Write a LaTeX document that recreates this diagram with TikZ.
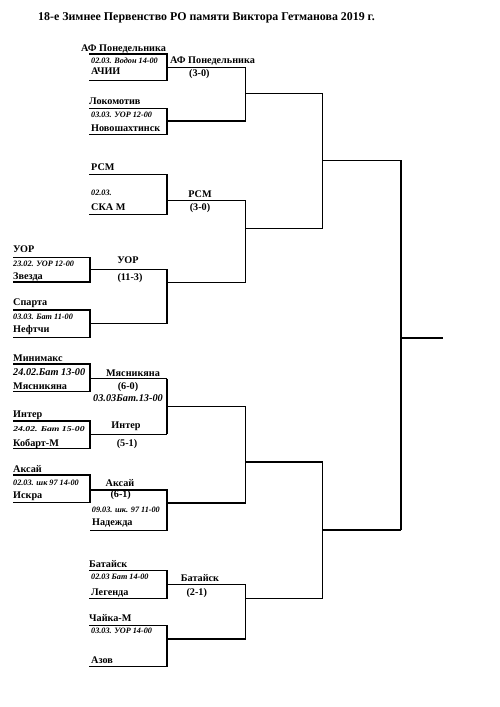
\documentclass[tikz,border=0pt]{standalone}
\usepackage{fontspec}
\setmainfont{Liberation Serif}
\begin{document}
\begin{tikzpicture}[x=1pt,y=-1pt,
  ln/.style={line width=1.5pt,black},
  nm/.style={inner sep=0pt,anchor=west,font=\bfseries\fontsize{10.2}{11}\selectfont},
  nmc/.style={inner sep=0pt,anchor=center,font=\bfseries\fontsize{10.2}{11}\selectfont},
  dt/.style={inner sep=0pt,anchor=west,font=\bfseries\itshape\fontsize{8.2}{9}\selectfont},
  dtc/.style={inner sep=0pt,anchor=center,font=\bfseries\itshape\fontsize{8.2}{9}\selectfont},
  dtbig/.style={font=\bfseries\itshape\fontsize{10.3}{11}\selectfont},
  ttl/.style={inner sep=0pt,anchor=west,font=\bfseries\fontsize{11.9}{13}\selectfont}]
\useasboundingbox[fill=white] (0,0) rectangle (500,707);

\node[ttl] (title) at (38,18) {18-е Зимнее Первенство РО памяти Виктора Гетманова 2019 г.};

% ---------- column A ----------
\node[nm] (uor) at (13,249) {УОР};
\node[dt] (uord) at (13,264) {23.02. УОР 12-00};
\node[nm] (zv) at (13,276.7) {Звезда};
\node[nmc] (uorw) at (128,260) {УОР};
\node[nmc] (uors) at (130,278.3) {(11-3)};

\node[nm] (sp) at (13,303) {Спарта};
\node[dt] (spd) at (13,316.5) {03.03. Бат 11-00};
\node[nm] (nf) at (13,330.5) {Нефтчи};

\node[nm] (mm) at (13,358.3) {Минимакс};
\node[dt,dtbig] (mmd) at (13,371.7) {24.02.Бат 13-00};
\node[nm] (ms) at (13,386.7) {Мясникяна};
\node[nmc] (msw) at (133,373.3) {Мясникяна};
\node[nmc] (mss) at (128,387.3) {(6-0)};
\node[dtc,dtbig] (msd) at (128,398.3) {03.03Бат.13-00};

\node[nm] (in) at (13,415.7) {Интер};
\node[dt,font=\bfseries\itshape\fontsize{7.5}{8}\selectfont,xscale=1.3,transform shape] (ind) at (13,429) {24.02. Бат 15-00};
\node[nm] (kb) at (13,444) {Кобарт-М};
\node[nmc] (inw) at (126,426.7) {Интер};
\node[nmc] (ins) at (127,444) {(5-1)};

\node[nm] (ak) at (13,469.3) {Аксай};
\node[dt] (akd) at (13,483.3) {02.03. шк 97 14-00};
\node[nm] (is) at (13,496.7) {Искра};
\node[nmc] (akw) at (120,482.7) {Аксай};
\node[nmc] (aks) at (120.7,495) {(6-1)};
\node[dt] (nad) at (91.7,510) {09.03. шк. 97 11-00};
\node[nm] (nd) at (92,523.3) {Надежда};

% ---------- column B ----------
\node[nm] (af) at (81,49) {АФ Понедельника};
\node[dt] (afd) at (91,60.7) {02.03. Водон 14-00};
\node[nm] (ac) at (91,71.5) {АЧИИ};
\node[nm] (afw) at (170,61) {АФ Понедельника};
\node[nmc] (afs) at (199.3,74.3) {(3-0)};

\node[nm] (lk) at (89,101.7) {Локомотив};
\node[dt] (lkd) at (91,115) {03.03. УОР 12-00};
\node[nm] (nsh) at (91,128.3) {Новошахтинск};

\node[nm] (rsm) at (91,167.3) {РСМ};
\node[dt] (rsmd) at (91,193.3) {02.03.};
\node[nm] (ska) at (91,207.3) {СКА М};
\node[nmc] (rsmw) at (200,194) {РСМ};
\node[nmc] (rsms) at (200,208) {(3-0)};

\node[nm] (bt) at (89,564) {Батайск};
\node[dt] (btd) at (91,576.7) {02.03 Бат 14-00};
\node[nm] (lg) at (91,592.7) {Легенда};
\node[nmc] (btw) at (200,577.7) {Батайск};
\node[nmc] (bts) at (196.7,592.7) {(2-1)};

\node[nm] (ch) at (89,618.3) {Чайка-М};
\node[dt] (chd) at (91,631) {03.03. УОР 14-00};
\node[nm] (az) at (91,660) {Азов};

% ---------- lines ----------
% column A brackets
\draw[ln] (13,257.7) -- (90,257.7) -- (90,282) -- (13,282);
\draw[ln] (90,269.3) -- (167,269.3);
\draw[ln] (13,310) -- (90,310) -- (90,337.7) -- (13,337.7);
\draw[ln] (90,323.5) -- (167,323.5);
\draw[ln] (167,269.3) -- (167,323.5);
\draw[ln] (167,282.7) -- (245.7,282.7);

\draw[ln] (13,364) -- (90,364) -- (90,391.7) -- (13,391.7);
\draw[ln] (90,378.5) -- (167,378.5);
\draw[ln] (13,421) -- (90,421) -- (90,448.5) -- (13,448.5);
\draw[ln] (90,434.3) -- (167,434.3);
\draw[ln] (167,378.5) -- (167,434.3);
\draw[ln] (167,406.7) -- (245.7,406.7);

\draw[ln] (13,475) -- (90,475) -- (90,502.7) -- (13,502.7);
\draw[ln] (90,490) -- (167,490) -- (167,530.7) -- (90,530.7);
\draw[ln] (167,503) -- (245.7,503);

% column B brackets
\draw[ln] (89,54) -- (167,54) -- (167,80.7) -- (89,80.7);
\draw[ln] (167,67.3) -- (245.7,67.3);
\draw[ln] (89,108.3) -- (167,108.3) -- (167,134.7) -- (89,134.7);
\draw[ln] (167,121) -- (245.7,121);
\draw[ln] (245.7,67.3) -- (245.7,121);
\draw[ln] (245.7,93.3) -- (322.7,93.3);

\draw[ln] (89,174.3) -- (167,174.3) -- (167,214.3) -- (89,214.3);
\draw[ln] (167,200.7) -- (245.7,200.7);
\draw[ln] (245.7,200.7) -- (245.7,282.7);
\draw[ln] (245.7,228.3) -- (322.7,228.3);
\draw[ln] (322.7,93.3) -- (322.7,228.3);
\draw[ln] (322.7,160.3) -- (401,160.3);

\draw[ln] (245.7,406.7) -- (245.7,503);
\draw[ln] (245.7,462) -- (322.7,462);
\draw[ln] (89,570.7) -- (167,570.7) -- (167,598.3) -- (89,598.3);
\draw[ln] (167,584.7) -- (245.7,584.7);
\draw[ln] (89,625.7) -- (167,625.7) -- (167,666.7) -- (89,666.7);
\draw[ln] (167,639) -- (245.7,639);
\draw[ln] (245.7,584.7) -- (245.7,639);
\draw[ln] (245.7,598.3) -- (322.7,598.3);
\draw[ln] (322.7,462) -- (322.7,598.3);
\draw[ln] (322.7,530) -- (401,530);

\draw[ln] (401,160.3) -- (401,530);
\draw[ln] (401,338) -- (443.3,338);
\end{tikzpicture}
\end{document}
